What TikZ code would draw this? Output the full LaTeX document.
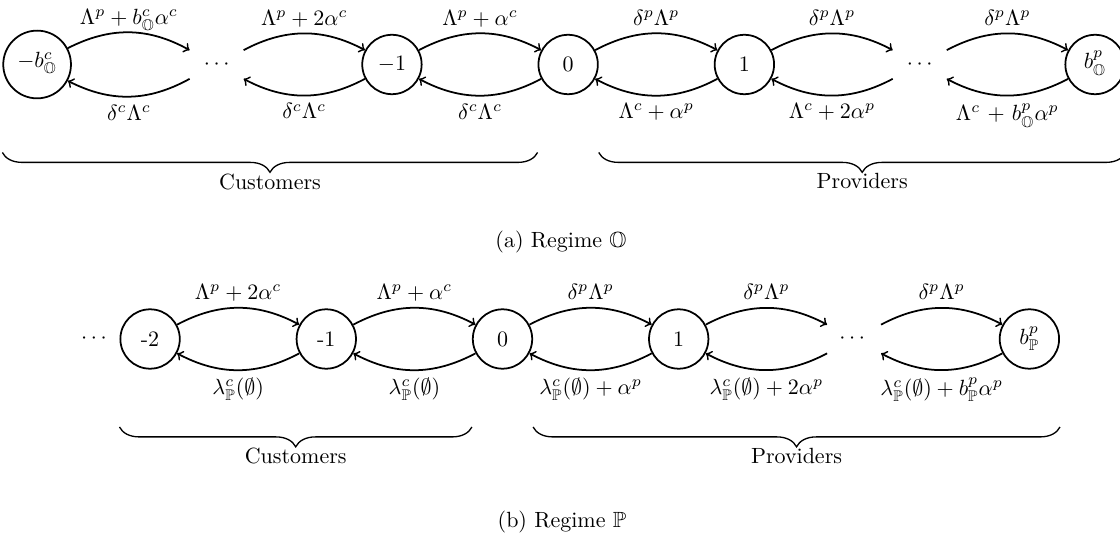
\documentclass[tikz,border=0pt]{standalone}
\usepackage{amsmath,amsfonts,amssymb}
\usetikzlibrary{matrix, decorations.pathreplacing}

\tikzset{
    st/.style={circle, draw, thick, minimum size=27pt, inner sep=3.5pt},
    tr/.style={->, thick, bend left=28, nodes={text depth=0pt}},
    grp/.style={decorate, decoration={brace, mirror, amplitude=9pt}, semithick}
}

\begin{document}
\begin{tikzpicture}[x=0.01597cm, y=-0.01597cm]
            \useasboundingbox (0,0) rectangle (1120,543);
            \matrix [matrix of math nodes, nodes={st, anchor=center}, column sep=52.3pt] (ma) at (564,64.5)
            {
                -b^c_{\mathbb{O}} & |[draw=none]| \cdots & -1 & 0 & 1 & |[draw=none]| \cdots & b^p_{\mathbb{O}}\\
            };
            \draw[tr] (ma-1-1) to node[above] {$\Lambda^p + b^c_{\mathbb{O}}\alpha^c$} (ma-1-2);
            \draw[tr] (ma-1-2) to node[below] {$\delta^c\Lambda^c$} (ma-1-1);
            \draw[tr] (ma-1-2) to node[above] {$\Lambda^p + 2\alpha^c$} (ma-1-3);
            \draw[tr] (ma-1-3) to node[below] {$\delta^c\Lambda^c$} (ma-1-2);
            \draw[tr] (ma-1-3) to node[above] {$\Lambda^p + \alpha^c$} (ma-1-4);
            \draw[tr] (ma-1-4) to node[below] {$\delta^c\Lambda^c$} (ma-1-3);
            \draw[tr] (ma-1-4) to node[above] {$\delta^p\Lambda^p$} (ma-1-5);
            \draw[tr] (ma-1-5) to node[below] {$\Lambda^c + \alpha^p$} (ma-1-4);
            \draw[tr] (ma-1-5) to node[above] {$\delta^p\Lambda^p$} (ma-1-6);
            \draw[tr] (ma-1-6) to node[below] {$\Lambda^c + 2\alpha^p$} (ma-1-5);
            \draw[tr] (ma-1-6) to node[above] {$\delta^p\Lambda^p$} (ma-1-7);
            \draw[tr] (ma-1-7) to node[below] {$\Lambda^c$ + $b^p_{\mathbb{O}}\alpha^p$} (ma-1-6);
            \draw[grp] ([yshift=-40pt]ma-1-1.west) -- node[below=6pt] {Customers} ([yshift=-40pt]ma-1-4.west);
            \draw[grp] ([yshift=-40pt]ma-1-4.east) -- node[below=6pt] {Providers} ([yshift=-40pt]ma-1-7.east);
            \node (capa) at (561,242) {(a) Regime $\mathbb{O}$};

            \matrix [matrix of nodes, nodes={st, anchor=center}, column sep=52.3pt] (mb) at (563,339)
            {
                |[draw=none]| $\cdots$ &[-55pt] -2 & -1 & 0 & 1 & |[draw=none]| $\cdots$ & $b^p_{\mathbb{P}}$\\
            };
            \draw[tr] (mb-1-2) to node[above] {$\Lambda^p + 2\alpha^c$} (mb-1-3);
            \draw[tr] (mb-1-3) to node[below] {$\lambda^c_{\mathbb{P}}(\emptyset)$} (mb-1-2);
            \draw[tr] (mb-1-3) to node[above] {$\Lambda^p + \alpha^c$} (mb-1-4);
            \draw[tr] (mb-1-4) to node[below] {$\lambda^c_{\mathbb{P}}(\emptyset)$} (mb-1-3);
            \draw[tr] (mb-1-4) to node[above] {$\delta^p\Lambda^p$} (mb-1-5);
            \draw[tr] (mb-1-5) to node[below] {$\lambda^c_{\mathbb{P}}(\emptyset) + \alpha^p$} (mb-1-4);
            \draw[tr] (mb-1-5) to node[above] {$\delta^p\Lambda^p$} (mb-1-6);
            \draw[tr] (mb-1-6) to node[below] {$\lambda^c_{\mathbb{P}}(\emptyset) + 2\alpha^p$} (mb-1-5);
            \draw[tr] (mb-1-6) to node[above] {$\delta^p\Lambda^p$} (mb-1-7);
            \draw[tr] (mb-1-7) to node[below] {$\lambda^c_{\mathbb{P}}(\emptyset) + b^p_{\mathbb{P}}\alpha^p$} (mb-1-6);
            \draw[grp] ([yshift=-40pt]mb-1-2.west) -- node[below=6pt] {Customers} ([yshift=-40pt]mb-1-4.west);
            \draw[grp] ([yshift=-40pt]mb-1-4.east) -- node[below=6pt] {Providers} ([yshift=-40pt]mb-1-7.east);
            \node (capb) at (562,522) {(b) Regime $\mathbb{P}$};
        \end{tikzpicture}
\end{document}
